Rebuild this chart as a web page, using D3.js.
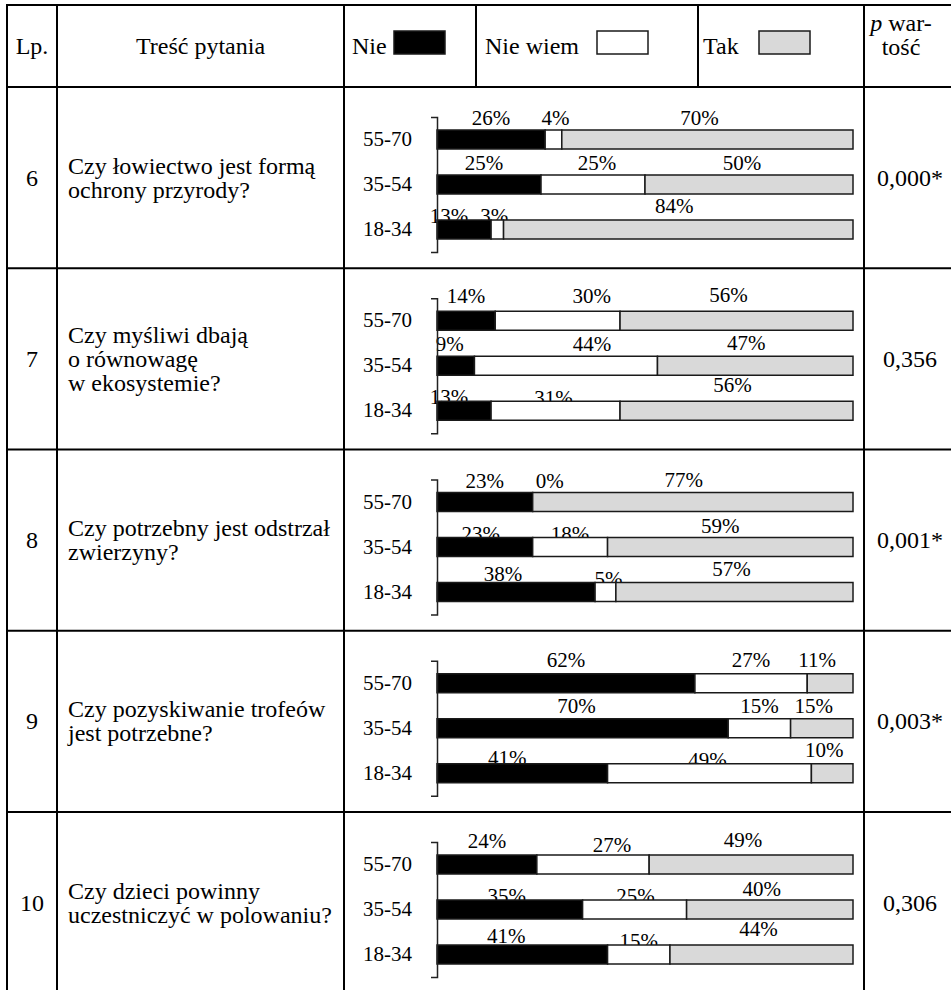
<!DOCTYPE html>
<html>
<head>
<meta charset="utf-8">
<script src="https://cdn.jsdelivr.net/npm/d3@7"></script>
<style>
  body { margin: 0; background: #fff; }
  svg { display: block; }
  text { font-family: "Liberation Serif", "Times New Roman", serif; fill: #000; }
</style>
</head>
<body>
<svg id="chart" width="951" height="990"></svg>
<script>
// ---- data ----
const questionNumbers = ["6", "7", "8", "9", "10"];
const questionTexts = [
  ["Czy łowiectwo jest formą", "ochrony przyrody?"],
  ["Czy myśliwi dbają", "o równowagę", "w ekosystemie?"],
  ["Czy potrzebny jest odstrzał", "zwierzyny?"],
  ["Czy pozyskiwanie trofeów", "jest potrzebne?"],
  ["Czy dzieci powinny", "uczestniczyć w polowaniu?"]
];
const ageGroups = ["55-70", "35-54", "18-34"];
const answerLabels = ["Nie", "Nie wiem", "Tak"];
// percentages per question, per age group (order as ageGroups)
const nieValues     = [[26, 25, 13], [14,  9, 13], [23, 23, 38], [62, 70, 41], [24, 35, 41]];
const nieWiemValues = [[ 4, 25,  3], [30, 44, 31], [ 0, 18,  5], [27, 15, 49], [27, 25, 15]];
const takValues     = [[70, 50, 84], [56, 47, 56], [77, 59, 57], [11, 15, 10], [49, 40, 44]];
const pValues = ["0,000*", "0,356", "0,001*", "0,003*", "0,306"];

// ---- layout ----
const W = 951, H = 990;
const tableTop = 5, headerBottom = 87, rowH = 181.25;
const colX = { left: 7, lp: 57, question: 344, chartEnd: 864, right: 951 };
const headerCols = [476, 698];
const tableFont = 24;   // table cells
const chartFont = 21;   // bar labels and age groups
const segFill = ["#000000", "#ffffff", "#d9d9d9"];
const segStroke = "#1a1a1a";

// label nudges per question / age group / segment: [dx from segment centre, baseline relative to bar top]
const labelNudge = [
  [[[0, -5], [2, -5], [-8, -5]], [[-5, -5], [4, -5], [-7, -5]], [[-15, 3], [-3, 3], [-4, -7]]],
  [[[0, -8], [34, -8], [-8, -9]], [[-6, -5], [26, -5], [-9, -6]], [[-15, 3], [-2, 4], [-4, -9]]],
  [[[0, -5], [17, -5], [-9, -6]], [[-4, 3], [0, 3], [-10, -5]], [[-13, -2], [3, 3], [-3, -7]]],
  [[[0, -7], [0, -7], [-13, -7]], [[-6, -6], [0, -6], [-8, -6]], [[-15, 1], [-2, 3], [-8, -7]]],
  [[[0, -7], [19, -3], [-8, -8]], [[-3, 3], [1, 3], [-8, -4]], [[-16, -2], [0, 3], [-3, -9]]]
];

const svg = d3.select("#chart");
svg.append("rect").attr("width", W).attr("height", H).attr("fill", "#fff");

// scales shared by all question rows
const x = d3.scaleLinear().domain([0, 100]).range([437, 853]);
const age = d3.scaleBand().domain(ageGroups).range([30, 165])
  .paddingInner(26 / 45).paddingOuter(13 / 45);

// ---- header ----
const header = svg.append("g").attr("font-size", tableFont);
const hMid = (tableTop + headerBottom) / 2;
header.append("text").attr("x", (colX.left + colX.lp) / 2).attr("y", hMid + 8)
  .attr("text-anchor", "middle").text("Lp.");
header.append("text").attr("x", (colX.lp + colX.question) / 2).attr("y", hMid + 8)
  .attr("text-anchor", "middle").text("Treść pytania");

const legendItems = [
  { label: answerLabels[0], tx: 352, bx: 394 },
  { label: answerLabels[1], tx: 485, bx: 597 },
  { label: answerLabels[2], tx: 703, bx: 759 }
];
legendItems.forEach((d, i) => {
  header.append("text").attr("x", d.tx).attr("y", hMid + 8).text(d.label);
  header.append("rect").attr("x", d.bx).attr("y", 31).attr("width", 51).attr("height", 23)
    .attr("fill", segFill[i]).attr("stroke", segStroke).attr("stroke-width", 1.5);
});

const pHead = header.append("text").attr("text-anchor", "middle");
pHead.append("tspan").attr("x", 901).attr("y", 31)
  .html('<tspan font-style="italic">p</tspan> war-');
pHead.append("tspan").attr("x", 901).attr("y", 55).text("tość");

// ---- question rows ----
questionNumbers.forEach((num, qi) => {
  const top = headerBottom + qi * rowH;
  const mid = top + rowH / 2;
  const row = svg.append("g");

  row.append("text").attr("x", (colX.left + colX.lp) / 2).attr("y", mid + 8)
    .attr("text-anchor", "middle").attr("font-size", tableFont).text(num);

  const lines = questionTexts[qi];
  const lh = 24;
  row.append("g").selectAll("text").data(lines).join("text")
    .attr("x", 68)
    .attr("y", (d, i) => mid + (i - (lines.length - 1) / 2) * lh + 8)
    .attr("font-size", tableFont)
    .text(d => d);

  row.append("text").attr("x", 910).attr("y", mid + 8)
    .attr("text-anchor", "middle").attr("font-size", tableFont).text(pValues[qi]);

  // stacked bars for this question
  const chart = row.append("g").attr("transform", `translate(0,${top})`);
  const records = ageGroups.map((g, ai) => ({
    group: g, ai,
    values: [nieValues[qi][ai], nieWiemValues[qi][ai], takValues[qi][ai]]
  }));
  const stack = d3.stack().keys([0, 1, 2]).value((d, k) => d.values[k]);
  const series = stack(records);

  // value labels go underneath the bars
  series.forEach((s, k) => {
    chart.append("g").selectAll("text").data(s).join("text")
      .attr("text-anchor", "middle")
      .attr("font-size", chartFont)
      .attr("x", d => (x(d[0]) + x(d[1])) / 2 + labelNudge[qi][d.data.ai][k][0])
      .attr("y", d => age(d.data.group) + labelNudge[qi][d.data.ai][k][1])
      .text(d => d.data.values[k] + "%");
  });

  series.forEach((s, k) => {
    chart.append("g").selectAll("rect").data(s.filter(d => d[1] > d[0])).join("rect")
      .attr("x", d => x(d[0]))
      .attr("y", d => age(d.data.group))
      .attr("width", d => x(d[1]) - x(d[0]))
      .attr("height", age.bandwidth())
      .attr("fill", segFill[k])
      .attr("stroke", segStroke)
      .attr("stroke-width", 1.5);
  });

  const axis = chart.append("g").attr("transform", `translate(${x(0)},0)`)
    .call(d3.axisLeft(age).tickSizeInner(0).tickSizeOuter(6).tickPadding(25));
  axis.attr("font-family", null).attr("font-size", chartFont);
  axis.select(".domain").attr("stroke", "#222").attr("stroke-width", 1.5);
  axis.selectAll("text").attr("fill", "#000");
});

// ---- table grid ----
const grid = svg.append("g").attr("stroke", "#000").attr("stroke-width", 2);
const rowLines = d3.range(6).map(i => i === 0 ? tableTop : headerBottom + (i - 1) * rowH);
grid.selectAll("line.h").data(rowLines).join("line")
  .attr("x1", colX.left).attr("x2", colX.right)
  .attr("y1", d => d).attr("y2", d => d);
grid.selectAll("line.v").data([colX.left, colX.lp, colX.question, colX.chartEnd]).join("line")
  .attr("x1", d => d).attr("x2", d => d).attr("y1", tableTop - 1).attr("y2", H);
grid.selectAll("line.hv").data(headerCols).join("line")
  .attr("x1", d => d).attr("x2", d => d).attr("y1", tableTop).attr("y2", headerBottom);
</script>
</body>
</html>
